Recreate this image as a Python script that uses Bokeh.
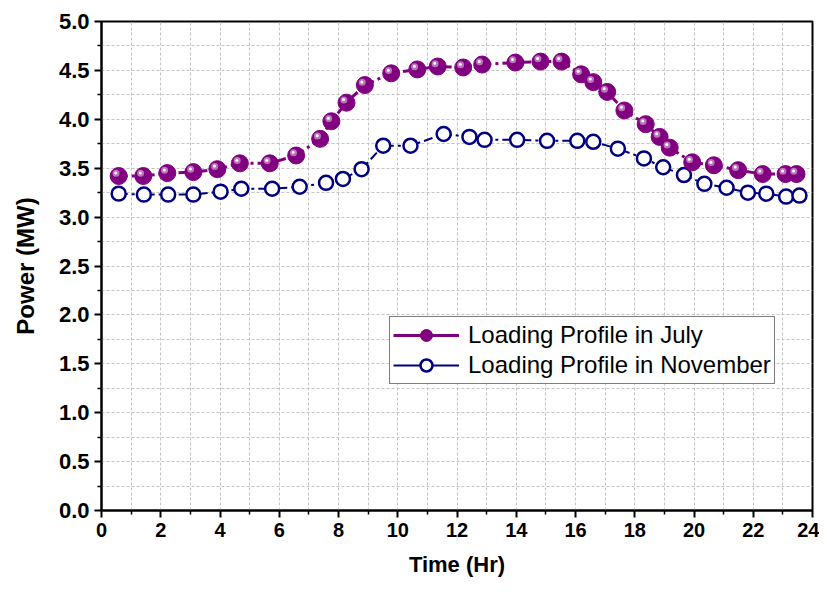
from bokeh.plotting import figure
from bokeh.models import (ColumnDataSource, FixedTicker, NumeralTickFormatter,
                          Legend, LegendItem, Range1d)
from bokeh.transform import dodge
from bokeh.embed import file_html
from bokeh.resources import INLINE

# ---------------- data ----------------
july_hr = [0.58, 1.41, 2.22, 3.10, 3.91, 4.67, 5.68, 6.57, 7.38, 7.76, 8.27, 8.89,
           9.78, 10.66, 11.35, 12.21, 12.85, 13.97, 14.82, 15.53, 16.19, 16.60,
           17.07, 17.65, 18.37, 18.84, 19.18, 19.94, 20.67, 21.49, 22.32, 23.09, 23.46]
july_mw = [3.42, 3.42, 3.45, 3.46, 3.49, 3.55, 3.55, 3.63, 3.80, 3.98, 4.17, 4.35,
           4.47, 4.51, 4.54, 4.53, 4.56, 4.58, 4.59, 4.59, 4.46, 4.38,
           4.28, 4.09, 3.95, 3.82, 3.71, 3.56, 3.53, 3.48, 3.44, 3.44, 3.44]

nov_hr = [0.58, 1.43, 2.25, 3.10, 4.02, 4.72, 5.76, 6.69, 7.58, 8.15, 8.78, 9.51,
          10.43, 11.55, 12.42, 12.93, 14.03, 15.04, 16.06, 16.60, 17.43, 18.31,
          18.96, 19.66, 20.35, 21.10, 21.82, 22.44, 23.11, 23.56]
nov_mw = [3.24, 3.23, 3.23, 3.23, 3.26, 3.29, 3.29, 3.31, 3.35, 3.39, 3.49, 3.73,
          3.73, 3.85, 3.82, 3.79, 3.79, 3.78, 3.78, 3.77, 3.70, 3.60,
          3.51, 3.43, 3.34, 3.30, 3.25, 3.24, 3.21, 3.22]

x_major = [0, 2, 4, 6, 8, 10, 12, 14, 16, 18, 20, 22, 24]
x_minor = [1, 3, 5, 7, 9, 11, 13, 15, 17, 19, 21, 23]
y_major = [0.0, 0.5, 1.0, 1.5, 2.0, 2.5, 3.0, 3.5, 4.0, 4.5, 5.0]
y_minor = [0.25, 0.75, 1.25, 1.75, 2.25, 2.75, 3.25, 3.75, 4.25, 4.75]

labels = ["Loading Profile in July", "Loading Profile in November"]

PURPLE = "#800080"
NAVY = "#000080"
FONT = "Liberation Sans"

july_src = ColumnDataSource(data=dict(x=july_hr, y=july_mw))
nov_src = ColumnDataSource(data=dict(x=nov_hr, y=nov_mw))

W, H = 819, 584
p = figure(width=W, height=H, output_backend="svg", toolbar_location=None,
           x_range=Range1d(0, 24), y_range=Range1d(0, 5),
           min_border_left=101, min_border_right=W - 812, min_border_top=21,
           min_border_bottom=H - 510)
p.background_fill_color = "white"
p.border_fill_color = "white"
p.outline_line_color = "black"
p.outline_line_width = 2

# axes / ticks
p.xaxis.ticker = FixedTicker(ticks=x_major, minor_ticks=x_minor)
p.yaxis.ticker = FixedTicker(ticks=y_major, minor_ticks=y_minor)
p.yaxis.formatter = NumeralTickFormatter(format="0.0")
for ax in (p.xaxis, p.yaxis):
    ax.axis_line_color = "black"
    ax.axis_line_width = 2
    ax.major_tick_line_color = "black"
    ax.major_tick_line_width = 2
    ax.minor_tick_line_color = "black"
    ax.minor_tick_line_width = 1.5
    ax.major_tick_out = 7
    ax.major_tick_in = 0
    ax.minor_tick_out = 4
    ax.minor_tick_in = 0
    ax.major_label_text_font = FONT
    ax.major_label_text_font_style = "bold"
    ax.major_label_text_color = "black"
    ax.axis_label_text_font = FONT
    ax.axis_label_text_font_style = "bold"
    ax.axis_label_text_color = "black"
    ax.major_label_standoff = 5
p.xaxis.major_label_text_font_size = "20px"
p.yaxis.major_label_text_font_size = "22px"
p.xaxis.axis_label = "Time (Hr)"
p.yaxis.axis_label = "Power (MW)"
p.xaxis.axis_label_text_font_size = "22px"
p.yaxis.axis_label_text_font_size = "24px"
p.xaxis.axis_label_standoff = 12
p.yaxis.axis_label_standoff = 17

# grid
for g in (p.xgrid, p.ygrid):
    g.grid_line_color = "#c4c4c4"
    g.grid_line_dash = "3 2"
    g.grid_line_width = 1
    g.minor_grid_line_color = "#c4c4c4"
    g.minor_grid_line_dash = "3 2"
    g.minor_grid_line_width = 1
p.xgrid.ticker = p.xaxis[0].ticker
p.ygrid.ticker = p.yaxis[0].ticker

# November series
p.line("x", "y", source=nov_src, line_color=NAVY, line_width=2, line_dash="9 4 3 4")
p.scatter("x", "y", source=nov_src, marker="circle", size=14, fill_color="white",
          line_color=NAVY, line_width=2.5)

# July series (sphere look)
p.line("x", "y", source=july_src, line_color=PURPLE, line_width=3, line_dash="9 4 3 4")
p.scatter("x", "y", source=july_src, marker="circle", size=17, fill_color=PURPLE,
          line_color=PURPLE, line_width=1)
p.scatter(dodge("x", -0.09, range=p.x_range), dodge("y", 0.028, range=p.y_range),
          source=july_src, marker="circle", size=7, fill_color="#c27fc2",
          line_color=None, fill_alpha=0.9)
p.scatter(dodge("x", -0.10, range=p.x_range), dodge("y", 0.032, range=p.y_range),
          source=july_src, marker="circle", size=3, fill_color="white",
          line_color=None)

# legend renderers: real data, hidden on the plot (visible=False), solid lines
lj_line = p.line("x", "y", source=july_src, line_color=PURPLE, line_width=3, visible=False)
lj_dot = p.scatter("x", "y", source=july_src, marker="circle", size=17,
                   fill_color=PURPLE, line_color=PURPLE, visible=False)
ln_line = p.line("x", "y", source=nov_src, line_color=NAVY, line_width=2, visible=False)
ln_dot = p.scatter("x", "y", source=nov_src, marker="circle", size=14,
                   fill_color="white", line_color=NAVY, line_width=2.5, visible=False)

legend = Legend(items=[LegendItem(label=labels[0], renderers=[lj_line, lj_dot]),
                       LegendItem(label=labels[1], renderers=[ln_line, ln_dot])],
                location=(288, 126), padding=3, spacing=0,
                glyph_width=66, glyph_height=30, label_height=30,
                label_standoff=9, margin=0,
                label_text_font=FONT, label_text_font_size="24px",
                label_text_color="black",
                border_line_color="black", border_line_width=1.5,
                background_fill_color="white", background_fill_alpha=1.0)
p.add_layout(legend, "center")

open("out.html", "w").write(file_html(p, INLINE))
